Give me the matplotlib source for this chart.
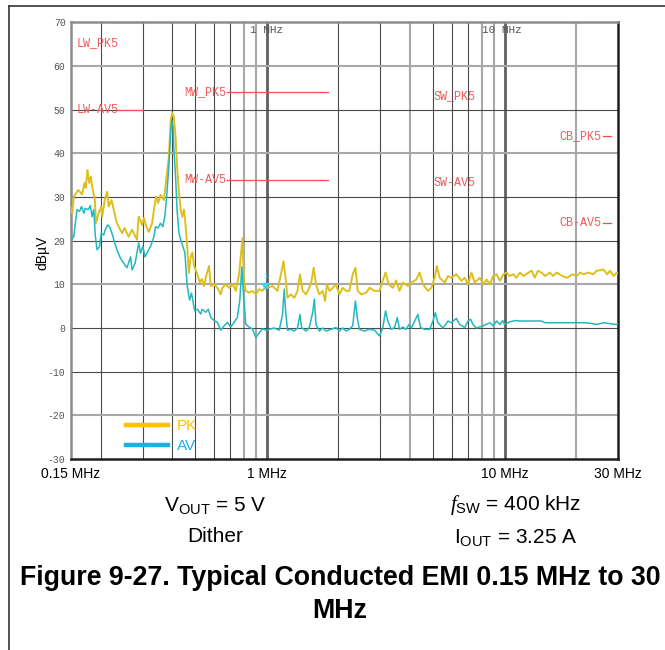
import matplotlib
matplotlib.use("Agg")
import matplotlib.pyplot as plt
from matplotlib.lines import Line2D
from matplotlib.ticker import NullLocator

plt.rcParams['font.family'] = ['Liberation Sans', 'DejaVu Sans']
plt.rcParams['mathtext.fontset'] = 'custom'
plt.rcParams['mathtext.rm'] = 'Liberation Sans'
plt.rcParams['mathtext.it'] = 'Liberation Serif:italic'
mono = ['Liberation Mono', 'DejaVu Sans Mono']

# ---- data (MHz, dBuV) ----
pk_freq = [0.150, 0.152, 0.154, 0.161, 0.167, 0.171, 0.173, 0.176, 0.179, 0.182,
           0.184, 0.189, 0.191, 0.196, 0.201, 0.203, 0.208, 0.213, 0.216, 0.222,
           0.227, 0.234, 0.246, 0.252, 0.262, 0.271, 0.278, 0.284, 0.289, 0.299,
           0.304, 0.311, 0.319, 0.329, 0.335, 0.342, 0.349, 0.357, 0.369, 0.377,
           0.387, 0.394, 0.400, 0.406, 0.413, 0.419, 0.427, 0.434, 0.441, 0.448,
           0.455, 0.462, 0.470, 0.478, 0.486, 0.494, 0.510, 0.522, 0.532, 0.544,
           0.553, 0.571, 0.581, 0.600, 0.619, 0.640, 0.650, 0.671, 0.694, 0.721,
           0.740, 0.764, 0.781, 0.790, 0.800, 0.815, 0.842, 0.869, 0.899, 0.928,
           0.958, 0.990, 1.006, 1.056, 1.108, 1.146, 1.175, 1.202, 1.222, 1.262,
           1.304, 1.346, 1.378, 1.414, 1.461, 1.508, 1.542, 1.573, 1.610, 1.662,
           1.717, 1.757, 1.791, 1.832, 1.892, 1.954, 2.018, 2.084, 2.154, 2.224,
           2.297, 2.358, 2.411, 2.492, 2.619, 2.703, 2.836, 2.977, 3.075, 3.156,
           3.258, 3.39, 3.50, 3.613, 3.733, 3.918, 4.053, 4.25, 4.39, 4.54,
           4.762, 4.92, 5.081, 5.19, 5.33, 5.60, 5.78, 5.97, 6.27, 6.58,
           6.80, 7.02, 7.25, 7.49, 7.87, 8.13, 8.40, 8.67, 8.95, 9.25,
           9.56, 9.88, 10.2, 10.5, 10.9, 11.2, 11.6, 12.0, 12.6, 13.0,
           13.4, 13.8, 14.3, 14.8, 15.5, 16.0, 16.6, 17.5, 18.3, 19.3,
           20.1, 20.8, 21.5, 22.5, 23.6, 24.4, 26.1, 27.0, 27.8, 28.7,
           29.7, 30.0]
pk_level = [27.4, 26.3, 30.1, 31.6, 30.6, 33.2, 32.1, 36.2, 33.2, 34.7,
            32.4, 29.3, 24.0, 26.3, 27.8, 25.5, 29.3, 31.2, 27.8, 29.3,
            27.1, 24.0, 21.7, 22.9, 20.9, 22.5, 21.3, 20.2, 25.5, 23.6,
            25.2, 23.2, 22.0, 24.0, 27.1, 30.1, 28.6, 30.5, 29.3, 33.9,
            39.2, 47.6, 49.2, 48.4, 43.8, 37.0, 30.9, 27.1, 25.5, 27.1,
            23.6, 18.7, 12.6, 16.3, 17.3, 14.2, 12.3, 10.4, 11.2, 9.6,
            11.5, 14.2, 9.6, 10.0, 9.2, 7.7, 9.2, 10.0, 9.2, 10.0,
            8.5, 12.3, 17.6, 20.6, 10.8, 8.5, 8.1, 8.5, 7.7, 8.9,
            8.5, 9.6, 9.2, 9.6, 8.5, 12.3, 15.3, 10.8, 6.9, 7.7,
            6.9, 8.5, 12.3, 8.5, 7.7, 9.2, 10.8, 13.8, 10.0, 7.7,
            8.5, 6.2, 10.0, 8.5, 9.2, 10.0, 7.7, 9.2, 8.5, 8.5,
            12.3, 13.8, 8.5, 7.7, 8.1, 9.2, 8.5, 8.5, 10.8, 12.7,
            10.0, 9.2, 10.9, 8.5, 10.4, 9.6, 10.4, 11.1, 12.7, 10.0,
            8.5, 9.2, 11.5, 14.2, 11.5, 10.4, 11.9, 11.5, 12.3, 10.8,
            11.5, 10.0, 12.7, 10.4, 11.5, 10.0, 11.1, 10.0, 11.9, 12.3,
            10.8, 12.3, 12.7, 11.9, 12.3, 11.5, 12.7, 11.9, 12.7, 13.1,
            11.5, 13.1, 12.7, 11.9, 12.7, 11.9, 12.7, 11.9, 11.5, 12.3,
            11.9, 12.7, 12.3, 12.7, 12.3, 13.1, 13.4, 12.3, 13.1, 11.9,
            12.7, 12.5]

av_freq = [0.150, 0.151, 0.154, 0.159, 0.163, 0.166, 0.170, 0.172, 0.177, 0.181,
           0.184, 0.187, 0.190, 0.193, 0.198, 0.201, 0.206, 0.209, 0.214, 0.218,
           0.223, 0.229, 0.234, 0.242, 0.250, 0.258, 0.267, 0.271, 0.279, 0.284,
           0.289, 0.294, 0.301, 0.307, 0.313, 0.324, 0.335, 0.340, 0.348, 0.357,
           0.365, 0.372, 0.378, 0.387, 0.394, 0.398, 0.403, 0.406, 0.413, 0.419,
           0.427, 0.434, 0.441, 0.452, 0.462, 0.473, 0.482, 0.497, 0.510, 0.527,
           0.535, 0.553, 0.567, 0.581, 0.600, 0.619, 0.640, 0.661, 0.682, 0.705,
           0.728, 0.751, 0.769, 0.785, 0.794, 0.815, 0.842, 0.869, 0.899, 0.928,
           0.958, 0.990, 1.023, 1.073, 1.127, 1.164, 1.183, 1.202, 1.222, 1.262,
           1.304, 1.346, 1.378, 1.400, 1.461, 1.508, 1.558, 1.584, 1.610, 1.662,
           1.717, 1.774, 1.862, 1.954, 2.018, 2.084, 2.154, 2.224, 2.297, 2.358,
           2.40, 2.451, 2.574, 2.703, 2.836, 2.977, 3.075, 3.156, 3.227, 3.335,
           3.444, 3.536, 3.613, 3.733, 3.857, 3.957, 4.053, 4.186, 4.318, 4.43,
           4.613, 4.84, 4.998, 5.114, 5.24, 5.51, 5.78, 5.97, 6.27, 6.47,
           6.80, 7.02, 7.19, 7.37, 7.61, 8.13, 8.67, 8.95, 9.25, 9.56,
           9.82, 10.0, 10.5, 11.1, 11.6, 12.2, 13.0, 13.6, 14.3, 14.8,
           15.5, 16.6, 17.7, 19.0, 20.1, 21.5, 22.9, 24.4, 26.1, 27.8,
           29.7, 30.0]
av_level = [23.2, 20.2, 20.9, 27.1, 26.7, 27.8, 26.3, 27.4, 27.1, 28.0,
            25.5, 27.1, 20.9, 17.9, 18.7, 21.7, 21.3, 22.5, 23.6, 23.2,
            21.7, 19.5, 17.9, 16.0, 14.8, 13.8, 16.3, 13.3, 14.8, 17.1,
            19.5, 17.1, 18.7, 16.3, 17.1, 18.7, 20.9, 23.2, 22.9, 24.0,
            23.2, 25.5, 29.3, 37.0, 44.6, 47.6, 46.1, 41.2, 34.7, 27.1,
            21.7, 20.2, 19.1, 17.2, 9.8, 6.4, 8.0, 3.9, 4.3, 3.2,
            4.3, 3.6, 4.3, 2.4, 1.7, 1.3, -0.5, 0.5, 1.3, 0.2,
            1.3, 2.4, 6.2, 14.0, 9.2, 0.9, 0.2, -0.2, -2.2, -1.1,
            -0.2, -0.5, -0.3, 0.0, -0.5, 3.1, 8.9, 3.1, -0.5, -0.3,
            -0.7, 0.0, 3.1, 0.1, -0.7, 0.1, 3.5, 6.6, 0.8, -0.7,
            0.0, -0.7, -0.3, 0.1, -0.7, 0.0, -0.7, -0.3, 0.5, 6.2,
            2.4, -0.3, -0.7, -0.3, -0.5, -1.8, 0.1, 3.9, 1.6, -0.3,
            0.1, 2.4, -0.3, 0.2, -0.3, 0.8, 0.0, 1.6, 3.1, 0.1,
            -0.3, -0.3, 1.6, 3.5, 1.2, 0.0, 1.6, 1.2, 2.2, 0.8,
            0.1, 1.6, 2.0, 0.8, 0.0, 0.5, 1.2, 0.5, 1.6, 0.8,
            1.7, 0.8, 1.4, 1.7, 1.6, 1.6, 1.6, 1.6, 1.6, 1.2,
            1.2, 1.2, 1.2, 1.2, 1.2, 1.2, 1.1, 0.8, 1.2, 1.0,
            0.8, 1.0]

# CISPR 25 class 5 limit segments
limit_labels = ["LW_PK5", "LW-AV5", "MW_PK5", "MW-AV5", "SW_PK5", "SW-AV5", "CB_PK5", "CB-AV5"]
limit_start = [0.15, 0.15, 0.53, 0.53, 5.9, 5.9, 26, 26]
limit_stop = [0.3, 0.3, 1.8, 1.8, 6.2, 6.2, 28, 28]
limit_level = [70, 50, 54, 34, 53, 33, 44, 24]

y_ticks = [-30, -20, -10, 0, 10, 20, 30, 40, 50, 60, 70]
x_tick_freqs = [0.15, 1, 10, 30]
x_tick_labels = ["0.15 MHz", "1 MHz", "10 MHz", "30 MHz"]

# ---- figure ----
W, H = 665, 650
fig = plt.figure(figsize=(W / 100, H / 100), dpi=100)
ax = fig.add_axes([71 / W, 1 - 459 / H, 547 / W, 436.7 / H])
ax.set_xscale('log')
ax.set_xlim(0.15, 30)
ax.set_ylim(-30, 70)

# grid
grid_freqs = [0.2, 0.3, 0.4, 0.5, 0.6, 0.7, 0.8, 0.9, 2, 3, 4, 5, 6, 7, 8, 9, 20]
light = [0.8, 0.9, 4, 8, 9, 20]
for f in grid_freqs:
    if f in light:
        ax.axvline(f, color='#a8a8a8', lw=1.5, zorder=1)
    else:
        ax.axvline(f, color='#4a4a4a', lw=0.8, zorder=1)
for f in [1, 10]:
    ax.axvline(f, color='#606060', lw=2.0, zorder=1)
for y in y_ticks[1:-1]:
    if y in [60, 40, 10, -20]:
        ax.axhline(y, color='#a8a8a8', lw=1.5, zorder=1)
    else:
        ax.axhline(y, color='#4a4a4a', lw=0.8, zorder=1)

for s in ['left', 'top']:
    ax.spines[s].set_color('#8c8c8c')
    ax.spines[s].set_linewidth(1.8)
for s in ['right', 'bottom']:
    ax.spines[s].set_color('#1e1e1e')
    ax.spines[s].set_linewidth(1.8)

ax.set_yticks(y_ticks)
ax.set_yticklabels([str(v) for v in y_ticks], fontfamily=mono, fontsize=7, color='#555555')
ax.set_xticks(x_tick_freqs)
ax.set_xticklabels(x_tick_labels, fontsize=10)
ax.xaxis.set_minor_locator(NullLocator())
ax.tick_params(axis='y', length=0, pad=4)
ax.tick_params(axis='x', length=0, pad=6)

# top frequency marks
ax.text(0.85, 68.2, "1 MHz", fontfamily=mono, fontsize=8, color='#555555', va='center', ha='left')
ax.text(8.02, 68.2, "10 MHz", fontfamily=mono, fontsize=8, color='#555555', va='center', ha='left')

# traces
ax.plot(pk_freq, pk_level, color='#dcc81c', lw=1.4, zorder=3)
ax.plot(pk_freq, pk_level, color='#e8902c', lw=0.6, ls=(0, (1, 2)), alpha=0.8, zorder=3)
ax.plot(av_freq, av_level, color='#22b8c0', lw=1.1, zorder=4)
ax.plot([0.985], [9.6], marker='v', color='#30d8e8', ms=5, zorder=5)
ax.text(0.985, 11.8, "1", fontfamily=mono, fontsize=5, color='#30d8e8', ha='center', va='center')

# limit labels, then the red segments after the text
red = '#f05a5a'
label_pos = [(0.158, 65.3, 'left'), (0.158, 50, 'left'), (0.451, 54, 'left'), (0.451, 34, 'left'),
             (5.03, 53.2, 'left'), (5.03, 33.2, 'left'), (25.6, 44, 'right'), (25.6, 24, 'right')]
texts = []
for lab, (tx, ty, ha) in zip(limit_labels, label_pos):
    texts.append(ax.text(tx, ty, lab, fontfamily=mono, fontsize=8.5, color=red,
                         ha=ha, va='center', zorder=5))
fig.canvas.draw()
rend = fig.canvas.get_renderer()
inv = ax.transData.inverted()
for t, f0, f1, lvl in zip(texts, limit_start, limit_stop, limit_level):
    bb = t.get_window_extent(rend)
    x_end = inv.transform((bb.x1, 0))[0]
    start = max(f0, x_end) if t.get_ha() == 'left' else f0
    if start < f1:
        ax.plot([start, f1], [lvl, lvl], color='#ff4a4a', lw=0.9, zorder=2)

# legend
handles = [Line2D([], [], color='#ffc000', lw=3.2), Line2D([], [], color='#1cb0e6', lw=3.2)]
ax.legend(handles, ['PK', 'AV'], loc='lower left', bbox_to_anchor=(0.086, -0.004),
          frameon=False, fontsize=11, handlelength=2.8, handletextpad=0.55,
          labelspacing=0.4, borderpad=0, labelcolor=['#ffc000', '#1cb0e6'])

fig.text(42 / W, 1 - 253 / H, "dBµV", rotation=90, ha='center', va='center', fontsize=10)

# page border
fig.add_artist(Line2D([9 / W, 9 / W], [0, 1 - 6 / H], transform=fig.transFigure, color='#333333', lw=1.2))
fig.add_artist(Line2D([9 / W, 1], [1 - 6 / H, 1 - 6 / H], transform=fig.transFigure, color='#333333', lw=1.2))

# conditions
fig.text(215 / W, 1 - 505 / H, r"V$_{\mathregular{OUT}}$ = 5 V", ha='center', va='center', fontsize=15)
fig.text(215 / W, 1 - 537 / H, "Dither", ha='center', va='center', fontsize=15)
fig.text(516 / W, 1 - 505 / H, r"$f$$_{\mathregular{SW}}$ = 400 kHz", ha='center', va='center', fontsize=15)
fig.text(516 / W, 1 - 537 / H, r"I$_{\mathregular{OUT}}$ = 3.25 A", ha='center', va='center', fontsize=15)

fig.text(340 / W, 1 - 578 / H, "Figure 9-27. Typical Conducted EMI 0.15 MHz to 30",
         ha='center', va='center', fontsize=19.3, fontweight='bold')
fig.text(340 / W, 1 - 611 / H, "MHz", ha='center', va='center', fontsize=19.3, fontweight='bold')

fig.savefig("out.png", dpi=100)
